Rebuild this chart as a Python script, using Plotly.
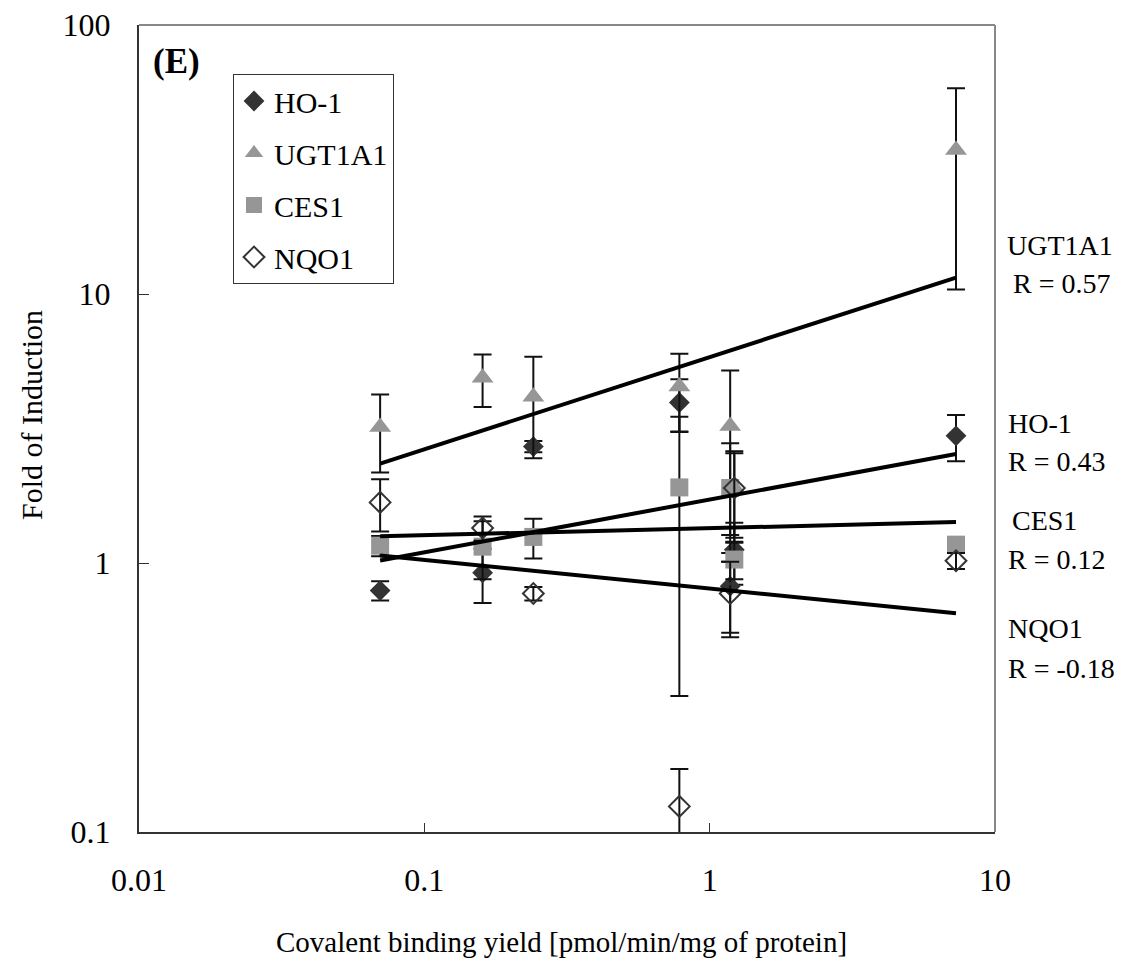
import numpy as np
import plotly.graph_objects as go

# ---------------- data ----------------
genes = ["HO-1", "UGT1A1", "CES1", "NQO1"]
r_text = ["R = 0.43", "R = 0.57", "R = 0.12", "R = -0.18"]

x_yield = [0.070, 0.160, 0.241, 0.783, 1.18, 1.22, 7.3]

ho1_fold = [0.79, 0.92, 2.71, 3.95, 0.82, 1.12, 2.97]
ho1_err = [0.065, 0.21, 0.13, 0.87, 0.27, 0.29, 0.58]

ugt_fold = [3.20, 4.88, 4.15, 4.53, 3.23, 1.90, 34.3]
ugt_err = [1.03, 1.08, 1.70, 1.46, 1.96, 0.70, 23.9]

ces1_fold = [1.16, 1.15, 1.25, 1.91, 1.90, 1.03, 1.17]
ces1_err = [0.10, 0.28, 0.21, 1.59, 0.89, 0.16, 0.05]

nqo1_fold = [1.68, 1.35, 0.77, 0.1245, 0.77, 1.90, 1.02]
nqo1_err = [0.37, 0.14, 0.045, 0.047, 0.24, 0.66, 0.07]

x_ticks = [0.01, 0.1, 1, 10]
x_ticklabels = ["0.01", "0.1", "1", "10"]
y_ticks = [0.1, 1, 10, 100]
y_ticklabels = ["0.1", "1", "10", "100"]

# ---------------- style ----------------
FONT = "Liberation Serif"
styles = {
    "HO-1": dict(symbol="diamond", size=16, color="#333333", line=dict(width=0)),
    "UGT1A1": dict(symbol="triangle-up", size=19, color="#969696", line=dict(width=0)),
    "CES1": dict(symbol="square", size=18, color="#969696", line=dict(width=0)),
    "NQO1": dict(symbol="diamond-open", size=16, color="#333333", line=dict(width=2, color="#333333")),
}
series = {
    "HO-1": (ho1_fold, ho1_err),
    "UGT1A1": (ugt_fold, ugt_err),
    "CES1": (ces1_fold, ces1_err),
    "NQO1": (nqo1_fold, nqo1_err),
}

fig = go.Figure()

for g in genes:
    yv, ev = series[g]
    fig.add_trace(go.Scatter(
        x=x_yield, y=yv, mode="markers", name=g, legendgroup=g,
        marker=styles[g],
        error_y=dict(type="data", array=ev, symmetric=True, color="#111111",
                     thickness=2, width=9),
        cliponaxis=False,
    ))

# power-law trendlines fitted from the data
for g in genes:
    yv, _ = series[g]
    lx = np.log10(np.array(x_yield))
    ly = np.log10(np.array(yv))
    b, a = np.polyfit(lx, ly, 1)
    xs = np.geomspace(min(x_yield), max(x_yield), 60)
    ys = 10 ** (a + b * np.log10(xs))
    fig.add_trace(go.Scatter(
        x=xs, y=ys, mode="lines", legendgroup=g, showlegend=False,
        line=dict(color="#000000", width=4), hoverinfo="skip",
    ))

# page coordinates of the plot area (page has an 8px body margin)
OFF = 8
FW, FH = 1123 - 2 * OFF, 967 - 2 * OFF
L, R, T, B = 139, 995, 25, 832
W, H = R - L, B - T


def px(xp):
    return (xp - L) / W


def py(yp):
    return (B - yp) / H


ann = [
    dict(text="<b>(E)</b>", x=px(151), y=py(62), xanchor="left", yanchor="middle",
         font=dict(size=35)),
    dict(text="Fold of Induction", x=px(31), y=py(415), textangle=-90,
         xanchor="center", yanchor="middle", font=dict(size=30)),
    dict(text="Covalent binding yield [pmol/min/mg of protein]", x=px(561), y=py(942),
         xanchor="center", yanchor="middle", font=dict(size=29)),
]
label_pos = {
    "UGT1A1": (1005, 246, 1011, 284),
    "HO-1": (1006, 423, 1006, 461),
    "CES1": (1010, 520, 1006, 559),
    "NQO1": (1006, 628, 1006, 668),
}
for g, rt in zip(genes, r_text):
    x1, y1, x2, y2 = label_pos[g]
    ann.append(dict(text=g, x=px(x1), y=py(y1), xanchor="left", yanchor="middle",
                    font=dict(size=28)))
    ann.append(dict(text=rt, x=px(x2), y=py(y2), xanchor="left", yanchor="middle",
                    font=dict(size=28)))
for a_ in ann:
    a_.update(xref="paper", yref="paper", showarrow=False)

fig.update_layout(
    width=FW, height=FH,
    margin=dict(l=L - OFF, r=FW - (R - OFF), t=T - OFF, b=FH - (B - OFF),
                autoexpand=False),
    paper_bgcolor="white", plot_bgcolor="white",
    font=dict(family=FONT, size=28, color="#000000"),
    showlegend=True,
    legend=dict(
        x=px(233), y=py(74), xanchor="left", yanchor="top",
        bordercolor="#333333", borderwidth=1, bgcolor="white",
        font=dict(size=30, family=FONT), traceorder="grouped", tracegroupgap=10,
        itemsizing="trace",
    ),
    annotations=ann,
    shapes=[
        dict(type="line", xref="paper", yref="paper", x0=0, x1=1, y0=1, y1=1,
             line=dict(color="#888888", width=2)),
        dict(type="line", xref="paper", yref="paper", x0=1, x1=1, y0=0, y1=1,
             line=dict(color="#888888", width=2)),
    ],
)
fig.update_xaxes(
    type="log", range=[-2, 1], showgrid=False, zeroline=False, automargin=False,
    showline=True, linecolor="#333333", linewidth=2,
    ticks="inside", ticklen=9, tickcolor="#333333", tickwidth=1,
    tickvals=x_ticks, ticktext=x_ticklabels, ticklabelstandoff=19,
    tickfont=dict(size=32, family=FONT), ticklabeloverflow="allow",
)
fig.update_yaxes(
    type="log", range=[-1, 2], showgrid=False, zeroline=False, automargin=False,
    showline=True, linecolor="#333333", linewidth=2,
    ticks="inside", ticklen=10, tickcolor="#333333", tickwidth=1,
    tickvals=y_ticks, ticktext=y_ticklabels, ticklabelstandoff=20,
    tickfont=dict(size=32, family=FONT), ticklabeloverflow="allow",
)

fig.write_html("out.html")
